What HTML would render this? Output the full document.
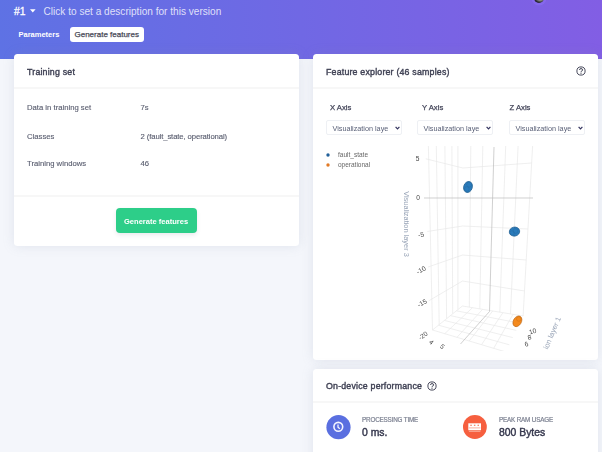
<!DOCTYPE html>
<html><head><meta charset="utf-8">
<style>
*{box-sizing:border-box;margin:0;padding:0}
html,body{width:602px;height:452px;overflow:hidden;background:#f4f6fb;font-family:"Liberation Sans",sans-serif;color:#525f7f}
.hdr{position:absolute;left:0;top:0;width:602px;height:59px;background:linear-gradient(87deg,#5e72e4 0,#825ee4 100%)}
.abs{position:absolute;white-space:nowrap}
.card{position:absolute;background:#fff;border-radius:3.5px;box-shadow:0 0 12px 0 rgba(136,152,170,.18)}
.sep{position:absolute;left:0;right:0;height:1.5px;background:rgba(0,0,0,.03)}
.h{color:#3d3f52;font-size:8.8px;letter-spacing:0.2px;-webkit-text-stroke:0.38px #3d3f52}
.sel{border:1px solid #eef0f4;border-radius:2px;background:#fff}
.pl{font-size:6.3px;letter-spacing:-0.17px;color:#7d8292;line-height:8px;-webkit-text-stroke:0.2px #7d8292}
.pv{font-size:10.4px;color:#35374d;line-height:12px;-webkit-text-stroke:0.42px #35374d}
.lbl{font-size:7.7px;color:#585c6e;-webkit-text-stroke:0.12px #585c6e}
</style></head><body><div id="wrap" style="position:absolute;left:0;top:0;width:602px;height:452px;filter:blur(0.3px)">
<div class="hdr"></div>
<div class="abs" style="left:534.3px;top:-6.7px;width:10px;height:10px;border-radius:50%;background:radial-gradient(circle at 62% 35%,#e8e8dc 0,#b0b0a0 35%,#3a3a40 62%,#1a1a24 75%);box-shadow:0 0 0 2.5px rgba(150,120,255,.35)"></div>

<div class="abs" style="left:14px;top:6px;font-size:10.3px;color:#fff;line-height:12px;-webkit-text-stroke:0.3px #fff">#1</div>
<svg class="abs" style="left:29.8px;top:8.8px" width="6" height="4" viewBox="0 0 6 4"><path d="M0,0.2 H5.6 L2.8,3.6 Z" fill="#fff"/></svg>
<div class="abs" style="left:43.5px;top:6px;font-size:10.1px;color:rgba(255,255,255,.8);line-height:12px">Click to set a description for this version</div>

<div class="abs" style="left:18.5px;top:30px;font-size:7.5px;font-weight:bold;color:#fff;line-height:10px">Parameters</div>
<div class="abs" style="left:70px;top:27px;width:74px;height:15px;background:#fff;border-radius:3px"></div>
<div class="abs" style="left:74.5px;top:30px;font-size:8px;color:#474956;line-height:10px;-webkit-text-stroke:0.25px #474956">Generate features</div>

<div class="card" style="left:14px;top:54px;width:284.5px;height:192px">
  <div class="abs h" style="left:13px;top:12px;line-height:12px">Training set</div>
  <div class="sep" style="top:33px"></div>
  <div class="abs lbl" style="left:13px;top:49px;line-height:10px">Data in training set</div>
  <div class="abs lbl" style="left:126.5px;top:49px;line-height:10px">7s</div>
  <div class="abs lbl" style="left:13px;top:78px;line-height:10px">Classes</div>
  <div class="abs lbl" style="left:126.5px;top:78px;line-height:10px;letter-spacing:-0.1px">2 (fault_state, operational)</div>
  <div class="abs lbl" style="left:13px;top:104.7px;line-height:10px">Training windows</div>
  <div class="abs lbl" style="left:126.5px;top:104.7px;line-height:10px">46</div>
  <div class="sep" style="top:141px"></div>
  <div class="abs" style="left:102px;top:154px;width:81px;height:25px;background:#2dce89;border-radius:4px;box-shadow:0 2px 4px rgba(50,50,93,.1)"></div>
  <div class="abs" style="left:110px;top:162.5px;font-size:7.56px;font-weight:bold;color:#fff;line-height:10px">Generate features</div>
</div>

<div class="card" style="left:313px;top:54px;width:285px;height:306px">
  <div class="abs h" style="left:13px;top:12px;line-height:12px">Feature explorer (46 samples)</div>
  <div class="sep" style="top:33px"></div>
  <div class="abs lbl" style="left:17px;top:49px;line-height:10px;color:#44465a;-webkit-text-stroke:0.25px #44465a">X Axis</div>
  <div class="abs lbl" style="left:109px;top:49px;line-height:10px;color:#44465a;-webkit-text-stroke:0.25px #44465a">Y Axis</div>
  <div class="abs lbl" style="left:196.5px;top:49px;line-height:10px;color:#44465a;-webkit-text-stroke:0.25px #44465a">Z Axis</div>
</div>
<svg class="abs" style="left:575px;top:65px" width="12" height="12" viewBox="-6 -6 12 12"><circle r="4.1" fill="none" stroke="#3d3f52" stroke-width="0.95"/><path d="M-1.5,-1.1 Q-1.5,-2.4 0,-2.4 Q1.6,-2.4 1.6,-1.1 Q1.6,-0.2 0.4,0.3 L0,0.6 L0,1.1" fill="none" stroke="#3d3f52" stroke-width="1.0"/><circle cy="2.2" r="0.6" fill="#3d3f52"/></svg>
<div class="abs sel" style="left:326px;top:120px;width:75.5px;height:15px"></div>
<div class="abs" style="left:332.5px;top:123.5px;font-size:7.24px;color:#5a6178;line-height:9px">Visualization laye</div>
<svg class="abs" style="left:395px;top:126px" width="5" height="4" viewBox="0 0 5 4"><polyline points="0.6,0.8 2.5,2.8 4.4,0.8" fill="none" stroke="#32325d" stroke-width="1.2"/></svg>
<div class="abs sel" style="left:417px;top:120px;width:75.5px;height:15px"></div>
<div class="abs" style="left:423.5px;top:123.5px;font-size:7.24px;color:#5a6178;line-height:9px">Visualization laye</div>
<svg class="abs" style="left:486px;top:126px" width="5" height="4" viewBox="0 0 5 4"><polyline points="0.6,0.8 2.5,2.8 4.4,0.8" fill="none" stroke="#32325d" stroke-width="1.2"/></svg>
<div class="abs sel" style="left:509px;top:120px;width:75.5px;height:15px"></div>
<div class="abs" style="left:515.5px;top:123.5px;font-size:7.24px;color:#5a6178;line-height:9px">Visualization laye</div>
<svg class="abs" style="left:578px;top:126px" width="5" height="4" viewBox="0 0 5 4"><polyline points="0.6,0.8 2.5,2.8 4.4,0.8" fill="none" stroke="#32325d" stroke-width="1.2"/></svg>

<svg class="abs" style="left:0;top:0" width="602" height="452" viewBox="0 0 602 452">
<defs><clipPath id="pc"><rect x="316" y="140" width="280" height="211"/></clipPath></defs>
<g clip-path="url(#pc)">
<g stroke="#e8e8e8" stroke-width="0.7" fill="none">
<polyline points="425.7,158.8 462.9,168 531.6,163"/>
<polyline points="427.3,231.5 462.7,226 528.0,229"/>
<polyline points="428.1,267.0 462.6,255 526.2,260"/>
<polyline points="428.8,300.8 462.5,281 524.5,291"/>
<line x1="428.4" y1="146" x2="432.5" y2="330.0"/>
<line x1="436.3" y1="146" x2="439.2" y2="324.5"/>
<line x1="444.9" y1="146" x2="446.6" y2="318.6"/>
<line x1="451.9" y1="146" x2="452.7" y2="313.7"/>
<line x1="457.9" y1="146" x2="457.9" y2="309.5"/>
<line x1="470.8" y1="146" x2="469.3" y2="307.1"/>
<line x1="482.8" y1="146" x2="479.8" y2="308.8"/>
<line x1="505.7" y1="146" x2="499.8" y2="312.1"/>
<line x1="518.1" y1="146" x2="510.5" y2="313.9"/>
<line x1="532.6" y1="146" x2="523.1" y2="316.0"/>
<polyline points="432.5,330 462.4,306 523.1,316"/>
<line x1="472.5" y1="307.7" x2="444.7" y2="333.7"/>
<line x1="482.6" y1="309.3" x2="457.0" y2="337.3"/>
<line x1="492.7" y1="311.0" x2="469.2" y2="341.0"/>
<line x1="502.9" y1="312.7" x2="481.5" y2="344.7"/>
<line x1="513.0" y1="314.3" x2="493.7" y2="348.3"/>
<line x1="456.4" y1="310.8" x2="519.7" y2="323.2"/>
<line x1="450.4" y1="315.6" x2="516.3" y2="330.4"/>
<line x1="444.4" y1="320.4" x2="512.8" y2="337.6"/>
<line x1="438.5" y1="325.2" x2="509.4" y2="344.8"/>
<line x1="432.5" y1="330.0" x2="506.0" y2="352.0"/>
</g>
<g stroke="#bcbcbc" stroke-width="0.7" fill="none">
<line x1="424" y1="198" x2="533" y2="198"/>
<polyline points="494,147 489.5,311.5 460.5,344"/>
</g>
<g fill="#2a7bbb" stroke="#1b5a8c" stroke-width="0.7">
<ellipse cx="468" cy="187" rx="4.3" ry="5.6" transform="rotate(18 468 187)"/>
<circle cx="469.3" cy="184.5" r="2.6" fill="none" stroke="#2468a0" stroke-width="0.4"/>
<circle cx="466.8" cy="189" r="2.4" fill="none" stroke="#2468a0" stroke-width="0.4"/>
<ellipse cx="514.5" cy="231.6" rx="5.2" ry="4.5" transform="rotate(-10 514.5 231.6)"/>
<circle cx="515.5" cy="231" r="2.4" fill="none" stroke="#2468a0" stroke-width="0.4"/>
<circle cx="512" cy="233" r="2.3" fill="none" stroke="#2468a0" stroke-width="0.4"/>
</g>
<g fill="#f48a1e" stroke="#b8620f" stroke-width="0.6">
<ellipse cx="517.4" cy="321.3" rx="4.0" ry="5.7" transform="rotate(30 517.4 321.3)"/>
<circle cx="518.8" cy="319" r="2.3" fill="none" stroke="#c86a10" stroke-width="0.4"/>
</g>
<circle cx="328" cy="155" r="1.7" fill="#22609a"/>
<circle cx="328" cy="165" r="1.7" fill="#e27a26"/>
<g font-family="Liberation Sans" font-size="6.5" fill="#666">
<text x="338" y="157.3">fault_state</text>
<text x="338" y="167.3">operational</text>
</g>
<g font-family="Liberation Sans" font-size="6.6" fill="#444">
<text x="415.8" y="160.5">5</text>
<text x="416.3" y="200">0</text>
<text transform="translate(421,234.5) rotate(-10)" text-anchor="middle" y="2.4">-5</text>
<text transform="translate(421,270) rotate(-30)" text-anchor="middle" y="2.4">-10</text>
<text transform="translate(422,303) rotate(-30)" text-anchor="middle" y="2.4">-15</text>
<text transform="translate(423,335.5) rotate(-35)" text-anchor="middle" y="2.4">-20</text>
<text transform="translate(431.4,342) rotate(40)" text-anchor="middle" y="2.4">4</text>
<text transform="translate(442.4,346.4) rotate(40)" text-anchor="middle" y="2.4">5</text>
<text transform="translate(532.6,331.2) rotate(-15)" text-anchor="middle" y="2.4">10</text>
<text transform="translate(529.5,337.2) rotate(-15)" text-anchor="middle" y="2.4">8</text>
<text transform="translate(526.3,343.9) rotate(-15)" text-anchor="middle" y="2.4">6</text>
</g>
<g font-family="Liberation Sans" font-size="7.4" fill="#97a3b6">
<text transform="translate(407,224) rotate(90)" text-anchor="middle" y="2.6">Visualization layer 3</text>
<text transform="translate(552,333) rotate(-67)" text-anchor="middle" y="2.6">ion layer 1</text>
</g>
</g>
</svg>

<div class="card" style="left:313px;top:369px;width:285px;height:100px">
  <div class="abs h" style="left:13px;top:11px;line-height:12px">On-device performance</div>
  <div class="sep" style="top:32px"></div>
  <div class="abs pl" style="left:49px;top:46.5px">PROCESSING TIME</div>
  <div class="abs pv" style="left:49px;top:57.8px">0 ms.</div>
  <div class="abs pl" style="left:186px;top:46.5px">PEAK RAM USAGE</div>
  <div class="abs pv" style="left:186px;top:57.8px">800 Bytes</div>
</div>
<svg class="abs" style="left:425.5px;top:380px" width="12" height="12" viewBox="-6 -6 12 12"><circle r="4.1" fill="none" stroke="#3d3f52" stroke-width="0.95"/><path d="M-1.5,-1.1 Q-1.5,-2.4 0,-2.4 Q1.6,-2.4 1.6,-1.1 Q1.6,-0.2 0.4,0.3 L0,0.6 L0,1.1" fill="none" stroke="#3d3f52" stroke-width="1.0"/><circle cy="2.2" r="0.6" fill="#3d3f52"/></svg>
<svg class="abs" style="left:325.6px;top:414.5px" width="25" height="25" viewBox="0 0 25 25"><circle cx="12.5" cy="12.2" r="12.1" fill="#5a6fe0"/><circle cx="12.3" cy="11.8" r="4.4" fill="none" stroke="#f4f5ff" stroke-width="1.6"/><path d="M12,9.6 V12.2 L13.8,13.7" fill="none" stroke="#f4f5ff" stroke-width="1.3"/></svg>
<svg class="abs" style="left:463.3px;top:414.7px" width="24" height="24" viewBox="0 0 24 24"><circle cx="11.9" cy="12" r="11.9" fill="#f65f3f"/><rect x="5.3" y="8.3" width="12.7" height="6.9" fill="#fff"/><path d="M7.3,10.3 h1.5 M10.9,10.3 h1.5 M14.5,10.3 h1.5" stroke="#f65f3f" stroke-width="1.1"/><path d="M5.9,12.9 h11.5" stroke="#f77a5f" stroke-width="0.6"/><path d="M5.9,16.3 h11.5" stroke="#fcd0c4" stroke-width="0.7"/></svg>
</div></body></html>
